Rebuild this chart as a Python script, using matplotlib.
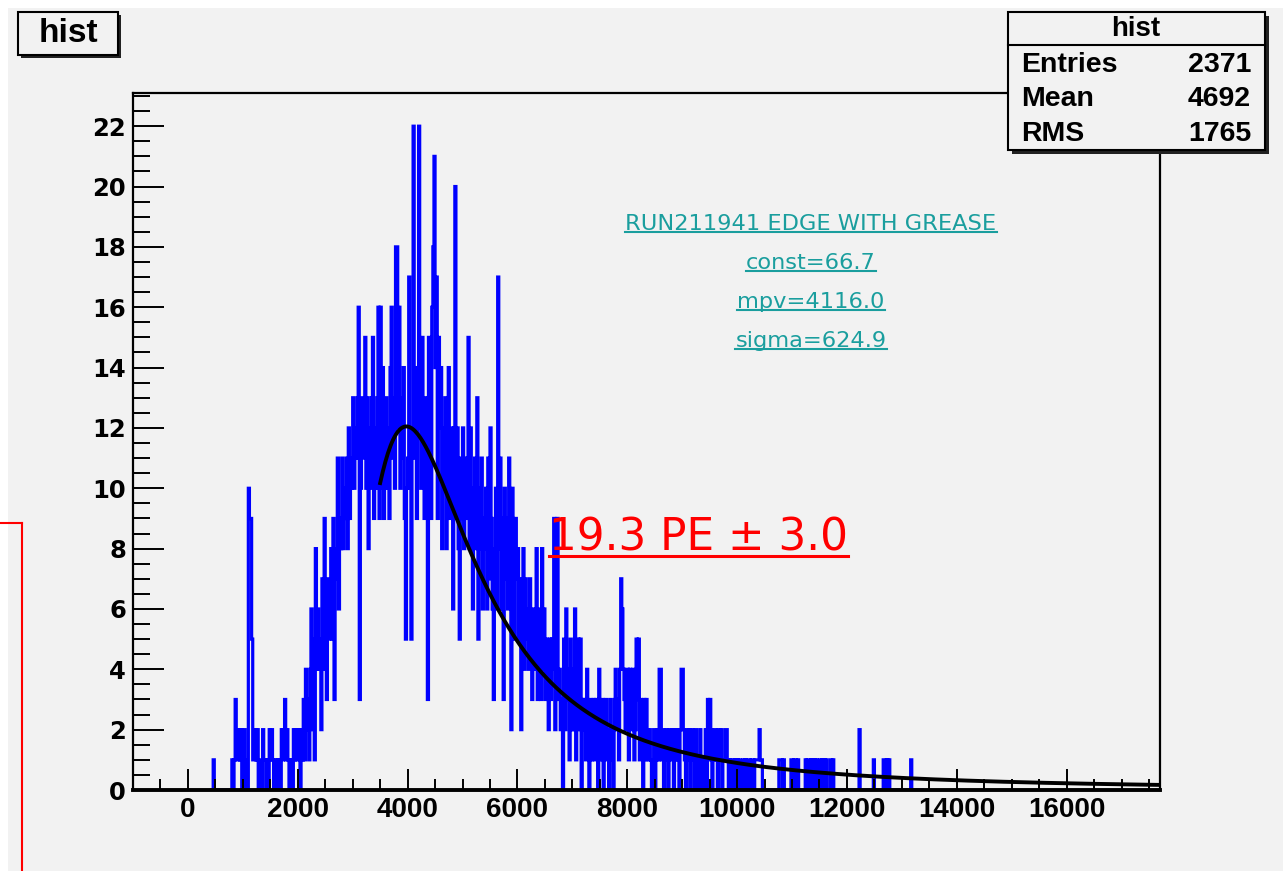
import numpy as np
import matplotlib
matplotlib.use('Agg')
import matplotlib.pyplot as plt
from matplotlib.patches import Rectangle
from matplotlib.lines import Line2D
from matplotlib.ticker import MultipleLocator

# histogram binning (ROOT TH1 style)
XMIN, XMAX, BIN_W = -1000, 17700, 20
YMAX = 23.1

# bin contents, 20-unit bins, grouped by x range
counts_0400_2400 = [0, 0, 0, 1, 0, 0, 0, 0, 0, 0,
                    0, 0, 0, 0, 0, 0, 0, 0, 0, 0,
                    1, 0, 1, 3, 2, 1, 2, 1, 2, 0,
                    1, 2, 0, 1, 0, 10, 9, 9, 5, 1,
                    1, 2, 1, 2, 0, 1, 1, 0, 2, 1,
                    1, 0, 1, 0, 2, 1, 2, 1, 0, 1,
                    1, 0, 1, 1, 0, 2, 1, 2, 3, 1,
                    2, 1, 0, 1, 1, 0, 2, 1, 2, 1,
                    1, 2, 0, 2, 1, 3, 1, 4, 2, 3,
                    1, 4, 6, 2, 5, 1, 8, 4, 6, 4]
counts_2400_4400 = [5, 2, 7, 4, 9, 6, 3, 7, 5, 6,
                    8, 5, 9, 3, 7, 8, 11, 6, 9, 8,
                    11, 8, 10, 9, 11, 8, 12, 9, 10, 11,
                    13, 10, 12, 11, 13, 16, 3, 10, 13, 11,
                    12, 15, 10, 13, 8, 12, 10, 13, 15, 9,
                    12, 10, 13, 16, 9, 16, 10, 14, 9, 13,
                    13, 10, 12, 9, 14, 16, 11, 13, 10, 18,
                    18, 12, 16, 10, 13, 11, 14, 9, 5, 10,
                    11, 17, 10, 5, 12, 22, 11, 14, 9, 13,
                    22, 12, 10, 15, 11, 9, 13, 10, 3, 15]
counts_4400_6400 = [14, 9, 16, 18, 21, 14, 17, 9, 15, 12,
                    14, 8, 12, 10, 13, 8, 11, 14, 9, 12,
                    10, 6, 12, 20, 9, 12, 8, 5, 11, 9,
                    12, 8, 10, 11, 9, 15, 8, 12, 10, 6,
                    9, 11, 8, 13, 5, 10, 8, 11, 6, 9,
                    8, 10, 6, 11, 7, 12, 9, 6, 3, 8,
                    10, 6, 17, 8, 11, 6, 9, 3, 10, 7,
                    9, 6, 11, 7, 2, 10, 8, 5, 9, 7,
                    8, 5, 7, 2, 6, 8, 4, 7, 5, 6,
                    4, 7, 5, 3, 6, 4, 5, 8, 3, 6]
counts_6400_8400 = [5, 3, 8, 4, 6, 3, 5, 4, 2, 5,
                    3, 5, 4, 9, 2, 5, 9, 3, 4, 2,
                    3, 0, 5, 2, 6, 3, 4, 1, 5, 2,
                    4, 2, 6, 1, 3, 5, 2, 5, 0, 3,
                    2, 3, 1, 4, 2, 0, 3, 1, 2, 3,
                    1, 3, 2, 0, 4, 1, 2, 3, 0, 2,
                    3, 1, 2, 0, 3, 1, 2, 0, 3, 4,
                    2, 3, 1, 4, 7, 6, 4, 3, 2, 4,
                    4, 1, 4, 2, 3, 4, 1, 2, 5, 3,
                    5, 1, 3, 2, 0, 3, 1, 3, 2, 1]
counts_8400_10400 = [2, 1, 0, 1, 2, 0, 1, 2, 1, 4,
                     4, 1, 2, 0, 1, 2, 1, 0, 2, 1,
                     1, 2, 0, 2, 1, 2, 1, 0, 2, 4,
                     4, 2, 1, 0, 2, 1, 2, 0, 1, 2,
                     1, 0, 2, 1, 0, 1, 2, 0, 1, 0,
                     1, 2, 0, 3, 1, 3, 2, 0, 1, 2,
                     2, 1, 0, 2, 1, 2, 0, 1, 1, 2,
                     2, 1, 0, 1, 0, 1, 1, 0, 1, 0,
                     1, 0, 1, 0, 0, 1, 0, 1, 0, 0,
                     1, 1, 0, 1, 1, 0, 1, 1, 1, 1]
counts_10400_12400 = [2, 1, 1, 0, 0, 0, 0, 0, 0, 0,
                      0, 0, 0, 0, 0, 0, 0, 0, 1, 1,
                      1, 0, 1, 0, 0, 0, 0, 0, 0, 1,
                      1, 0, 1, 1, 0, 1, 0, 0, 0, 0,
                      0, 0, 1, 0, 1, 1, 0, 1, 0, 1,
                      1, 0, 1, 0, 0, 1, 0, 1, 0, 1,
                      0, 1, 0, 0, 0, 1, 0, 1, 0, 0,
                      0, 0, 0, 0, 0, 0, 0, 0, 0, 0,
                      0, 0, 0, 0, 0, 0, 0, 0, 0, 0,
                      0, 2, 0, 0, 0, 0, 0, 0, 0, 0]
counts_12400_13400 = [0, 0, 0, 0, 1, 0, 0, 0, 0, 0,
                      0, 0, 0, 1, 1, 0, 1, 0, 1, 0,
                      0, 0, 0, 0, 0, 0, 0, 0, 0, 0,
                      0, 0, 0, 0, 0, 0, 0, 0, 1, 0,
                      0, 0, 0, 0, 0, 0, 0, 0, 0, 0]
DATA_START = 400

# landau fit parameters and stats box, as printed on the chart
fit_const, fit_mpv, fit_sigma = 66.7, 4116.0, 624.9
FIT_XMIN = 3500
stats_rows = [("Entries", "2371"), ("Mean", "4692"), ("RMS", "1765")]
note_lines = ["RUN211941 EDGE WITH GREASE", "const=66.7", "mpv=4116.0", "sigma=624.9"]
pe_text = "19.3 PE \u00b1 3.0"


def landau_pdf(lam):
    # ROOT::Math::landau_pdf via the integral representation
    t = np.linspace(0, 50, 100001)[1:]
    base = np.exp(-t * np.log(t)) * np.sin(np.pi * t)
    return np.array([np.trapezoid(base * np.exp(-l * t), t) / np.pi for l in lam])


data = np.concatenate([counts_0400_2400, counts_2400_4400, counts_4400_6400,
                       counts_6400_8400, counts_8400_10400, counts_10400_12400,
                       counts_12400_13400])
edges = DATA_START + BIN_W * np.arange(len(data) + 1)

W, H = 1283, 871
BG = '#f2f2f2'
fig = plt.figure(figsize=(W / 100, H / 100), dpi=100)
fig.patch.set_facecolor('white')


def fx(x):
    return x / W


def fy(y):
    return 1 - y / H


def fig_rect(x0, y0, x1, y1, **kw):
    r = Rectangle((fx(x0), fy(y1)), fx(x1) - fx(x0), fy(y0) - fy(y1),
                  transform=fig.transFigure, **kw)
    fig.add_artist(r)
    return r


def fig_line(xs, ys, **kw):
    fig.add_artist(Line2D([fx(v) for v in xs], [fy(v) for v in ys],
                          transform=fig.transFigure, **kw))


# canvas background
fig_rect(8, 8, W, H, facecolor=BG, edgecolor='none', zorder=-5)

ax = fig.add_axes([fx(133), fy(790), fx(1160) - fx(133), fy(93) - fy(790)])
ax.set_facecolor(BG)
ax.stairs(data, edges, color='#0000ff', lw=2.3, baseline=0)

xs = np.linspace(FIT_XMIN, XMAX, 600)
ax.plot(xs, fit_const * landau_pdf((xs - fit_mpv) / fit_sigma), color='black', lw=2.8)

ax.set_xlim(XMIN, XMAX)
ax.set_ylim(0, YMAX)
ax.xaxis.set_major_locator(MultipleLocator(2000))
ax.xaxis.set_minor_locator(MultipleLocator(500))
ax.yaxis.set_major_locator(MultipleLocator(2))
ax.yaxis.set_minor_locator(MultipleLocator(0.5))
ax.tick_params(axis='x', which='major', direction='in', length=15, width=1.4, pad=5)
ax.tick_params(axis='x', which='minor', direction='in', length=8, width=1.4)
ax.tick_params(axis='y', which='major', direction='in', length=22, width=1.4, pad=5)
ax.tick_params(axis='y', which='minor', direction='in', length=12, width=1.4)
for lab in ax.get_xticklabels():
    lab.set_fontfamily('Liberation Sans')
    lab.set_fontweight('bold')
    lab.set_fontsize(20)
for lab in ax.get_yticklabels():
    lab.set_fontfamily('DejaVu Sans')
    lab.set_fontweight('bold')
    lab.set_fontsize(17.5)
for sp in ax.spines.values():
    sp.set_linewidth(1.6)
ax.spines['bottom'].set_linewidth(2.8)
ax.spines['bottom'].set_zorder(3)

# title box
fig_rect(21, 15, 121, 58, facecolor='#222222', edgecolor='none', zorder=5)
fig_rect(18, 12, 118, 55, facecolor=BG, edgecolor='black', lw=1.5, zorder=6)
fig.text(fx(68), fy(34), "hist", ha='center', va='center', fontsize=24,
         fontweight='bold', family='Liberation Sans', zorder=7)

# stats box
fig_rect(1012, 16, 1269, 154, facecolor='#222222', edgecolor='none', zorder=5)
fig_rect(1008, 12, 1265, 150, facecolor=BG, edgecolor='black', lw=1.5, zorder=6)
fig_line([1008, 1265], [45, 45], color='black', lw=1.5, zorder=7)
fig.text(fx(1136), fy(29), "hist", ha='center', va='center', fontsize=20,
         fontweight='bold', family='Liberation Sans', zorder=7)
for k, (name, val) in enumerate(stats_rows):
    yy = 65 + 34.5 * k
    fig.text(fx(1021), fy(yy), name, ha='left', va='center', fontsize=20.5,
             fontweight='bold', family='Liberation Sans', zorder=7)
    fig.text(fx(1251), fy(yy), val, ha='right', va='center', fontsize=20.5,
             fontweight='bold', family='Liberation Sans', zorder=7)

# underlined annotations
texts = []
for k, s in enumerate(note_lines):
    t = fig.text(fx(811), fy(230 + 39 * k), s, ha='center', va='baseline',
                 fontsize=16.2, color='#1a9e9e', family='DejaVu Sans', zorder=7)
    texts.append((t, 230 + 39 * k + 2.5, 1.5, '#1a9e9e'))
t = fig.text(fx(549), fy(550), pe_text, ha='left', va='baseline', fontsize=31.5,
             color='#ff0000', family='DejaVu Sans', zorder=7)
texts.append((t, 556, 2.2, '#ff0000'))

fig.canvas.draw()
r = fig.canvas.get_renderer()
for t, yline, lw, col in texts:
    bb = t.get_window_extent(r)
    fig_line([bb.x0, bb.x1], [yline, yline], color=col, lw=lw, zorder=7)

# red frame fragment at lower left
fig_line([21.5, 21.5], [523, H], color='#ff0000', lw=1.5, zorder=8)
fig_line([0, 21.5], [523, 523], color='#ff0000', lw=1.5, zorder=8)

fig.savefig('out.png', dpi=100, facecolor=fig.get_facecolor())
